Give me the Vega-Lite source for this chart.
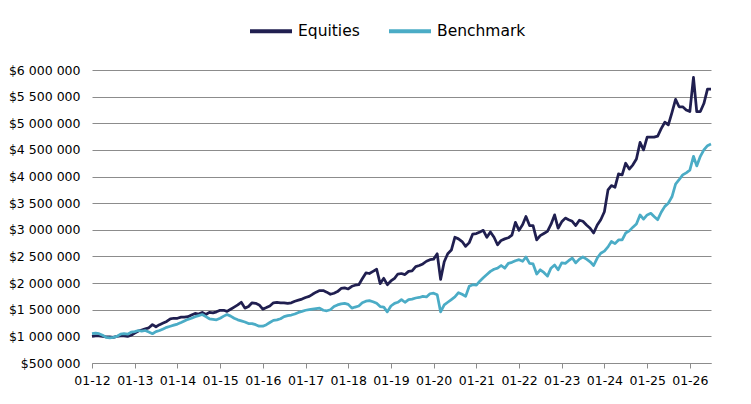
{
  "$schema": "https://vega.github.io/schema/vega-lite/v6.json",
  "width": 619,
  "height": 293,
  "autosize": "none",
  "padding": {"left": 92, "top": 70, "right": 40, "bottom": 41},
  "background": "white",
  "config": {
    "view": {"stroke": null},
    "font": "DejaVu Sans"
  },
  "data": {
    "values": [
      {"date": "2012-01-01", "Equities": 1000000, "Benchmark": 1050000},
      {"date": "2012-02-01", "Equities": 1010000, "Benchmark": 1060000},
      {"date": "2012-03-01", "Equities": 1010000, "Benchmark": 1050000},
      {"date": "2012-04-01", "Equities": 1000000, "Benchmark": 1020000},
      {"date": "2012-05-01", "Equities": 990000, "Benchmark": 980000},
      {"date": "2012-06-01", "Equities": 990000, "Benchmark": 970000},
      {"date": "2012-07-01", "Equities": 980000, "Benchmark": 980000},
      {"date": "2012-08-01", "Equities": 1000000, "Benchmark": 1000000},
      {"date": "2012-09-01", "Equities": 1010000, "Benchmark": 1040000},
      {"date": "2012-10-01", "Equities": 1010000, "Benchmark": 1050000},
      {"date": "2012-11-01", "Equities": 1000000, "Benchmark": 1040000},
      {"date": "2012-12-01", "Equities": 1020000, "Benchmark": 1080000},
      {"date": "2013-01-01", "Equities": 1060000, "Benchmark": 1090000},
      {"date": "2013-02-01", "Equities": 1100000, "Benchmark": 1110000},
      {"date": "2013-03-01", "Equities": 1120000, "Benchmark": 1100000},
      {"date": "2013-04-01", "Equities": 1140000, "Benchmark": 1110000},
      {"date": "2013-05-01", "Equities": 1160000, "Benchmark": 1080000},
      {"date": "2013-06-01", "Equities": 1220000, "Benchmark": 1050000},
      {"date": "2013-07-01", "Equities": 1180000, "Benchmark": 1090000},
      {"date": "2013-08-01", "Equities": 1220000, "Benchmark": 1110000},
      {"date": "2013-09-01", "Equities": 1250000, "Benchmark": 1140000},
      {"date": "2013-10-01", "Equities": 1280000, "Benchmark": 1170000},
      {"date": "2013-11-01", "Equities": 1330000, "Benchmark": 1190000},
      {"date": "2013-12-01", "Equities": 1340000, "Benchmark": 1210000},
      {"date": "2014-01-01", "Equities": 1340000, "Benchmark": 1230000},
      {"date": "2014-02-01", "Equities": 1360000, "Benchmark": 1260000},
      {"date": "2014-03-01", "Equities": 1360000, "Benchmark": 1290000},
      {"date": "2014-04-01", "Equities": 1370000, "Benchmark": 1320000},
      {"date": "2014-05-01", "Equities": 1400000, "Benchmark": 1340000},
      {"date": "2014-06-01", "Equities": 1430000, "Benchmark": 1370000},
      {"date": "2014-07-01", "Equities": 1420000, "Benchmark": 1390000},
      {"date": "2014-08-01", "Equities": 1450000, "Benchmark": 1410000},
      {"date": "2014-09-01", "Equities": 1410000, "Benchmark": 1370000},
      {"date": "2014-10-01", "Equities": 1450000, "Benchmark": 1330000},
      {"date": "2014-11-01", "Equities": 1440000, "Benchmark": 1320000},
      {"date": "2014-12-01", "Equities": 1460000, "Benchmark": 1310000},
      {"date": "2015-01-01", "Equities": 1490000, "Benchmark": 1340000},
      {"date": "2015-02-01", "Equities": 1490000, "Benchmark": 1380000},
      {"date": "2015-03-01", "Equities": 1470000, "Benchmark": 1410000},
      {"date": "2015-04-01", "Equities": 1510000, "Benchmark": 1380000},
      {"date": "2015-05-01", "Equities": 1550000, "Benchmark": 1340000},
      {"date": "2015-06-01", "Equities": 1590000, "Benchmark": 1310000},
      {"date": "2015-07-01", "Equities": 1640000, "Benchmark": 1290000},
      {"date": "2015-08-01", "Equities": 1530000, "Benchmark": 1270000},
      {"date": "2015-09-01", "Equities": 1560000, "Benchmark": 1240000},
      {"date": "2015-10-01", "Equities": 1630000, "Benchmark": 1240000},
      {"date": "2015-11-01", "Equities": 1620000, "Benchmark": 1220000},
      {"date": "2015-12-01", "Equities": 1590000, "Benchmark": 1190000},
      {"date": "2016-01-01", "Equities": 1510000, "Benchmark": 1190000},
      {"date": "2016-02-01", "Equities": 1540000, "Benchmark": 1220000},
      {"date": "2016-03-01", "Equities": 1570000, "Benchmark": 1260000},
      {"date": "2016-04-01", "Equities": 1630000, "Benchmark": 1300000},
      {"date": "2016-05-01", "Equities": 1640000, "Benchmark": 1310000},
      {"date": "2016-06-01", "Equities": 1630000, "Benchmark": 1330000},
      {"date": "2016-07-01", "Equities": 1630000, "Benchmark": 1370000},
      {"date": "2016-08-01", "Equities": 1620000, "Benchmark": 1390000},
      {"date": "2016-09-01", "Equities": 1630000, "Benchmark": 1400000},
      {"date": "2016-10-01", "Equities": 1660000, "Benchmark": 1420000},
      {"date": "2016-11-01", "Equities": 1680000, "Benchmark": 1450000},
      {"date": "2016-12-01", "Equities": 1700000, "Benchmark": 1470000},
      {"date": "2017-01-01", "Equities": 1730000, "Benchmark": 1490000},
      {"date": "2017-02-01", "Equities": 1750000, "Benchmark": 1500000},
      {"date": "2017-03-01", "Equities": 1790000, "Benchmark": 1510000},
      {"date": "2017-04-01", "Equities": 1830000, "Benchmark": 1520000},
      {"date": "2017-05-01", "Equities": 1860000, "Benchmark": 1530000},
      {"date": "2017-06-01", "Equities": 1860000, "Benchmark": 1490000},
      {"date": "2017-07-01", "Equities": 1830000, "Benchmark": 1480000},
      {"date": "2017-08-01", "Equities": 1790000, "Benchmark": 1500000},
      {"date": "2017-09-01", "Equities": 1810000, "Benchmark": 1560000},
      {"date": "2017-10-01", "Equities": 1840000, "Benchmark": 1590000},
      {"date": "2017-11-01", "Equities": 1900000, "Benchmark": 1610000},
      {"date": "2017-12-01", "Equities": 1910000, "Benchmark": 1620000},
      {"date": "2018-01-01", "Equities": 1890000, "Benchmark": 1600000},
      {"date": "2018-02-01", "Equities": 1940000, "Benchmark": 1530000},
      {"date": "2018-03-01", "Equities": 1960000, "Benchmark": 1550000},
      {"date": "2018-04-01", "Equities": 1970000, "Benchmark": 1570000},
      {"date": "2018-05-01", "Equities": 2080000, "Benchmark": 1630000},
      {"date": "2018-06-01", "Equities": 2190000, "Benchmark": 1660000},
      {"date": "2018-07-01", "Equities": 2180000, "Benchmark": 1670000},
      {"date": "2018-08-01", "Equities": 2220000, "Benchmark": 1650000},
      {"date": "2018-09-01", "Equities": 2260000, "Benchmark": 1620000},
      {"date": "2018-10-01", "Equities": 1990000, "Benchmark": 1560000},
      {"date": "2018-11-01", "Equities": 2090000, "Benchmark": 1550000},
      {"date": "2018-12-01", "Equities": 1970000, "Benchmark": 1460000},
      {"date": "2019-01-01", "Equities": 2040000, "Benchmark": 1570000},
      {"date": "2019-02-01", "Equities": 2090000, "Benchmark": 1620000},
      {"date": "2019-03-01", "Equities": 2170000, "Benchmark": 1640000},
      {"date": "2019-04-01", "Equities": 2180000, "Benchmark": 1690000},
      {"date": "2019-05-01", "Equities": 2160000, "Benchmark": 1640000},
      {"date": "2019-06-01", "Equities": 2220000, "Benchmark": 1690000},
      {"date": "2019-07-01", "Equities": 2230000, "Benchmark": 1700000},
      {"date": "2019-08-01", "Equities": 2310000, "Benchmark": 1720000},
      {"date": "2019-09-01", "Equities": 2330000, "Benchmark": 1730000},
      {"date": "2019-10-01", "Equities": 2360000, "Benchmark": 1750000},
      {"date": "2019-11-01", "Equities": 2410000, "Benchmark": 1740000},
      {"date": "2019-12-01", "Equities": 2440000, "Benchmark": 1800000},
      {"date": "2020-01-01", "Equities": 2450000, "Benchmark": 1810000},
      {"date": "2020-02-01", "Equities": 2550000, "Benchmark": 1780000},
      {"date": "2020-03-01", "Equities": 2070000, "Benchmark": 1460000},
      {"date": "2020-04-01", "Equities": 2400000, "Benchmark": 1590000},
      {"date": "2020-05-01", "Equities": 2550000, "Benchmark": 1640000},
      {"date": "2020-06-01", "Equities": 2620000, "Benchmark": 1690000},
      {"date": "2020-07-01", "Equities": 2860000, "Benchmark": 1740000},
      {"date": "2020-08-01", "Equities": 2830000, "Benchmark": 1820000},
      {"date": "2020-09-01", "Equities": 2780000, "Benchmark": 1790000},
      {"date": "2020-10-01", "Equities": 2690000, "Benchmark": 1750000},
      {"date": "2020-11-01", "Equities": 2760000, "Benchmark": 1940000},
      {"date": "2020-12-01", "Equities": 2920000, "Benchmark": 1970000},
      {"date": "2021-01-01", "Equities": 2930000, "Benchmark": 1960000},
      {"date": "2021-02-01", "Equities": 2960000, "Benchmark": 2040000},
      {"date": "2021-03-01", "Equities": 2990000, "Benchmark": 2100000},
      {"date": "2021-04-01", "Equities": 2860000, "Benchmark": 2160000},
      {"date": "2021-05-01", "Equities": 2960000, "Benchmark": 2220000},
      {"date": "2021-06-01", "Equities": 2860000, "Benchmark": 2260000},
      {"date": "2021-07-01", "Equities": 2720000, "Benchmark": 2280000},
      {"date": "2021-08-01", "Equities": 2800000, "Benchmark": 2330000},
      {"date": "2021-09-01", "Equities": 2830000, "Benchmark": 2280000},
      {"date": "2021-10-01", "Equities": 2850000, "Benchmark": 2370000},
      {"date": "2021-11-01", "Equities": 2900000, "Benchmark": 2390000},
      {"date": "2021-12-01", "Equities": 3140000, "Benchmark": 2420000},
      {"date": "2022-01-01", "Equities": 2990000, "Benchmark": 2440000},
      {"date": "2022-02-01", "Equities": 3100000, "Benchmark": 2410000},
      {"date": "2022-03-01", "Equities": 3250000, "Benchmark": 2490000},
      {"date": "2022-04-01", "Equities": 3080000, "Benchmark": 2370000},
      {"date": "2022-05-01", "Equities": 3080000, "Benchmark": 2360000},
      {"date": "2022-06-01", "Equities": 2810000, "Benchmark": 2170000},
      {"date": "2022-07-01", "Equities": 2890000, "Benchmark": 2250000},
      {"date": "2022-08-01", "Equities": 2930000, "Benchmark": 2200000},
      {"date": "2022-09-01", "Equities": 2970000, "Benchmark": 2130000},
      {"date": "2022-10-01", "Equities": 3100000, "Benchmark": 2280000},
      {"date": "2022-11-01", "Equities": 3280000, "Benchmark": 2340000},
      {"date": "2022-12-01", "Equities": 3030000, "Benchmark": 2250000},
      {"date": "2023-01-01", "Equities": 3150000, "Benchmark": 2380000},
      {"date": "2023-02-01", "Equities": 3220000, "Benchmark": 2370000},
      {"date": "2023-03-01", "Equities": 3190000, "Benchmark": 2420000},
      {"date": "2023-04-01", "Equities": 3160000, "Benchmark": 2470000},
      {"date": "2023-05-01", "Equities": 3080000, "Benchmark": 2380000},
      {"date": "2023-06-01", "Equities": 3180000, "Benchmark": 2450000},
      {"date": "2023-07-01", "Equities": 3160000, "Benchmark": 2490000},
      {"date": "2023-08-01", "Equities": 3090000, "Benchmark": 2450000},
      {"date": "2023-09-01", "Equities": 3030000, "Benchmark": 2400000},
      {"date": "2023-10-01", "Equities": 2940000, "Benchmark": 2330000},
      {"date": "2023-11-01", "Equities": 3090000, "Benchmark": 2470000},
      {"date": "2023-12-01", "Equities": 3190000, "Benchmark": 2560000},
      {"date": "2024-01-01", "Equities": 3340000, "Benchmark": 2600000},
      {"date": "2024-02-01", "Equities": 3750000, "Benchmark": 2680000},
      {"date": "2024-03-01", "Equities": 3830000, "Benchmark": 2780000},
      {"date": "2024-04-01", "Equities": 3800000, "Benchmark": 2740000},
      {"date": "2024-05-01", "Equities": 4050000, "Benchmark": 2810000},
      {"date": "2024-06-01", "Equities": 4030000, "Benchmark": 2810000},
      {"date": "2024-07-01", "Equities": 4250000, "Benchmark": 2940000},
      {"date": "2024-08-01", "Equities": 4140000, "Benchmark": 2980000},
      {"date": "2024-09-01", "Equities": 4220000, "Benchmark": 3050000},
      {"date": "2024-10-01", "Equities": 4330000, "Benchmark": 3110000},
      {"date": "2024-11-01", "Equities": 4640000, "Benchmark": 3280000},
      {"date": "2024-12-01", "Equities": 4500000, "Benchmark": 3200000},
      {"date": "2025-01-01", "Equities": 4740000, "Benchmark": 3280000},
      {"date": "2025-02-01", "Equities": 4740000, "Benchmark": 3310000},
      {"date": "2025-03-01", "Equities": 4740000, "Benchmark": 3250000},
      {"date": "2025-04-01", "Equities": 4760000, "Benchmark": 3190000},
      {"date": "2025-05-01", "Equities": 4900000, "Benchmark": 3330000},
      {"date": "2025-06-01", "Equities": 5020000, "Benchmark": 3440000},
      {"date": "2025-07-01", "Equities": 4970000, "Benchmark": 3500000},
      {"date": "2025-08-01", "Equities": 5200000, "Benchmark": 3620000},
      {"date": "2025-09-01", "Equities": 5450000, "Benchmark": 3860000},
      {"date": "2025-10-01", "Equities": 5310000, "Benchmark": 3940000},
      {"date": "2025-11-01", "Equities": 5310000, "Benchmark": 4030000},
      {"date": "2025-12-01", "Equities": 5250000, "Benchmark": 4070000},
      {"date": "2026-01-01", "Equities": 5220000, "Benchmark": 4120000},
      {"date": "2026-02-01", "Equities": 5860000, "Benchmark": 4380000},
      {"date": "2026-03-01", "Equities": 5220000, "Benchmark": 4200000},
      {"date": "2026-04-01", "Equities": 5220000, "Benchmark": 4380000},
      {"date": "2026-05-01", "Equities": 5370000, "Benchmark": 4500000},
      {"date": "2026-06-01", "Equities": 5640000, "Benchmark": 4580000},
      {"date": "2026-07-01", "Equities": 5640000, "Benchmark": 4610000}
    ]
  },
  "transform": [
    {"fold": ["Equities", "Benchmark"], "as": ["series", "value"]}
  ],
  "encoding": {
    "x": {
      "field": "date",
      "type": "temporal",
      "scale": {"type": "utc", "domain": ["2012-01-01", "2026-07-01"]},
      "axis": {
        "title": null,
        "format": "%m-%y",
        "tickCount": {"interval": "year", "step": 1},
        "grid": false,
        "domainColor": "#8c8c8c",
        "tickColor": "#8c8c8c",
        "tickSize": 5,
        "labelPadding": 6,
        "labelFontSize": 12.5,
        "labelColor": "#000000",
        "labelAngle": 0,
        "labelOverlap": false,
        "labelFlush": false
      }
    },
    "y": {
      "field": "value",
      "type": "quantitative",
      "scale": {"domain": [500000, 6000000], "nice": false, "zero": false},
      "axis": {
        "title": null,
        "values": [500000, 1000000, 1500000, 2000000, 2500000, 3000000, 3500000, 4000000, 4500000, 5000000, 5500000, 6000000],
        "labelExpr": "'$' + replace(replace(format(datum.value, ',.0f'), ',', ' '), ',', ' ')",
        "grid": true,
        "gridColor": "#8c8c8c",
        "gridWidth": 1,
        "domain": false,
        "ticks": false,
        "labelPadding": 12,
        "labelFontSize": 12.5,
        "labelColor": "#000000"
      }
    },
    "color": {
      "field": "series",
      "type": "nominal",
      "scale": {"domain": ["Equities", "Benchmark"], "range": ["#201f50", "#4bacc6"]},
      "legend": {
        "orient": "none",
        "legendX": 156,
        "legendY": -62,
        "direction": "horizontal",
        "title": null,
        "symbolType": "stroke",
        "symbolSize": 1764,
        "symbolStrokeWidth": 4,
        "labelFontSize": 15.5,
        "labelColor": "#000000",
        "labelOffset": 4,
        "columnPadding": 21
      }
    }
  },
  "layer": [
    {
      "transform": [{"filter": "datum.series == 'Equities'"}],
      "mark": {"type": "line", "strokeWidth": 2.75, "strokeJoin": "round"}
    },
    {
      "transform": [{"filter": "datum.series == 'Benchmark'"}],
      "mark": {"type": "line", "strokeWidth": 2.75, "strokeJoin": "round"}
    }
  ]
}
